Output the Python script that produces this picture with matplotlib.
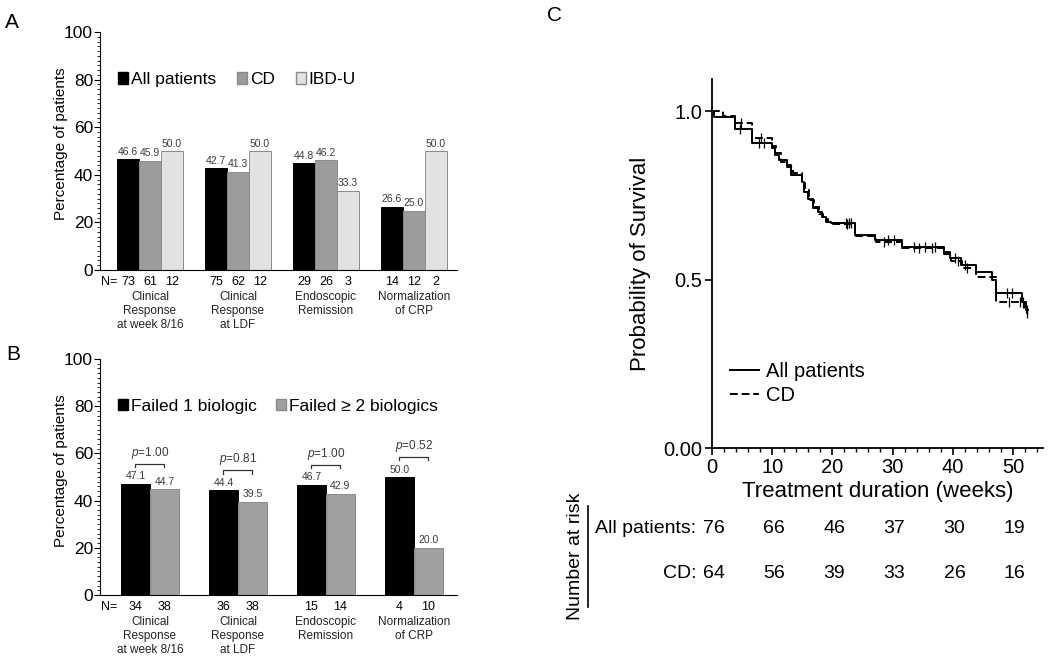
import numpy as np
import matplotlib
matplotlib.use("Agg")
import matplotlib.pyplot as plt
from matplotlib.patches import Patch
from matplotlib.lines import Line2D
from matplotlib.ticker import MultipleLocator
import matplotlib.transforms as mtransforms

plt.rcParams['font.family'] = ['Liberation Sans', 'DejaVu Sans']
plt.rcParams['mathtext.fontset'] = 'custom'
plt.rcParams['mathtext.it'] = 'Liberation Sans:italic'
plt.rcParams['mathtext.rm'] = 'Liberation Sans'

# ---------------- data ----------------
categories = ["Clinical\nResponse\nat week 8/16", "Clinical\nResponse\nat LDF",
              "Endoscopic\nRemission", "Normalization\nof CRP"]

# panel A
a_all = [46.6, 42.7, 44.8, 26.6]
a_cd = [45.9, 41.3, 46.2, 25.0]
a_ibdu = [50.0, 50.0, 33.3, 50.0]
a_n_all = [73, 75, 29, 14]
a_n_cd = [61, 62, 26, 12]
a_n_ibdu = [12, 12, 3, 2]

# panel B
b_one = [47.1, 44.4, 46.7, 50.0]
b_two = [44.7, 39.5, 42.9, 20.0]
b_n_one = [34, 36, 15, 4]
b_n_two = [38, 38, 14, 10]
b_pvals = ["1.00", "0.81", "1.00", "0.52"]

# panel C: Kaplan-Meier steps (weeks, survival) and censored times
t_all = [0, 0.3, 3.8, 6.6, 10.0, 10.5, 11.2, 12.4, 13.2, 14.9, 15.3, 16.0, 16.8,
         17.6, 18.2, 19.0, 19.7, 23.7, 27.1, 31.5, 38.5, 39.5, 41.4, 43.9, 46.5,
         47.2, 51.5, 52.2]
s_all = [1.0, 0.981, 0.946, 0.906, 0.89, 0.87, 0.855, 0.84, 0.81, 0.79, 0.76, 0.74,
         0.711, 0.70, 0.686, 0.672, 0.667, 0.633, 0.617, 0.597, 0.583, 0.563, 0.543,
         0.523, 0.498, 0.459, 0.434, 0.41]
cens_all = [4.6, 7.8, 8.6, 22.2, 22.7, 23.1, 29.3, 30.3, 33.5, 35.4, 37.1, 40.3,
            42.0, 49.0, 49.8, 51.6, 52.4]

t_cd = [0, 1.9, 3.8, 6.6, 10.0, 10.6, 11.4, 12.4, 13.4, 14.9, 15.5, 16.2, 16.9,
        17.7, 18.4, 19.2, 19.8, 23.7, 27.2, 31.6, 38.6, 39.7, 41.5, 43.9, 47.2,
        51.8, 52.3]
s_cd = [1.0, 0.984, 0.965, 0.919, 0.895, 0.875, 0.85, 0.835, 0.815, 0.785, 0.765,
        0.735, 0.715, 0.695, 0.68, 0.67, 0.664, 0.628, 0.612, 0.593, 0.577, 0.555,
        0.535, 0.508, 0.434, 0.415, 0.40]
cens_cd = [4.8, 8.2, 22.5, 28.6, 34.4, 36.6, 40.8, 42.3, 49.4, 51.2, 52.3]

risk_weeks = [0, 10, 20, 30, 40, 50]
risk_all = [76, 66, 46, 37, 30, 19]
risk_cd = [64, 56, 39, 33, 26, 16]

# ---------------- figure ----------------
fig = plt.figure(figsize=(10.5, 6.6), dpi=100)
axA = fig.add_axes([0.0952, 0.5909, 0.340, 0.3606])
axB = fig.add_axes([0.0952, 0.0985, 0.340, 0.3576])
axC = fig.add_axes([0.6781, 0.3212, 0.3152, 0.5591])

BLACK = '#000000'
MID = '#9c9c9c'
LIGHT = '#e2e2e2'
EDGE = '#8a8a8a'
VAL_C = '#3a3a3a'
x = np.arange(len(categories))


def style_bar_axis(ax):
    ax.set_xlim(-0.568, 3.49)
    ax.set_ylim(0, 100)
    ax.spines['top'].set_visible(False)
    ax.spines['right'].set_visible(False)
    ax.set_yticks([0, 20, 40, 60, 80, 100])
    ax.yaxis.set_minor_locator(MultipleLocator(2))
    ax.tick_params(axis='y', labelsize=12.5, length=4, width=0.8, pad=1)
    ax.tick_params(axis='y', which='minor', length=2, width=0.6)
    ax.set_xticks([])
    ax.set_ylabel("Percentage of patients", fontsize=11)


def under_text(ax, xpos, txt, dy, **kw):
    ax.annotate(txt, xy=(xpos, 0), xycoords=ax.get_xaxis_transform(),
                xytext=(0, dy), textcoords='offset points', **kw)


def n_label(ax):
    t = ax.text(0.0, 0, "N=", ha='left', va='top', fontsize=9)
    t.set_transform(ax.transAxes + mtransforms.ScaledTranslation(0.01, -4 / 72, fig.dpi_scale_trans))


# ---------------- panel A ----------------
w = 0.25
series_a = [(a_all, a_n_all, BLACK, BLACK), (a_cd, a_n_cd, MID, EDGE),
            (a_ibdu, a_n_ibdu, LIGHT, EDGE)]
for k, (vals, ns, col, ec) in enumerate(series_a):
    pos = x + (k - 1) * w
    axA.bar(pos, vals, width=w, color=col, edgecolor=ec, linewidth=0.7)
    for p, v, n in zip(pos, vals, ns):
        axA.text(p, v + 1, f"{v:.1f}", ha='center', va='bottom', fontsize=7.5, color=VAL_C)
        under_text(axA, p, str(n), -4, ha='center', va='top', fontsize=9)
for g, cat in zip(x, categories):
    under_text(axA, g, cat, -15, ha='center', va='top', fontsize=8.5, linespacing=1.25,
               color='#222222')
n_label(axA)
style_bar_axis(axA)
axA.yaxis.set_label_coords(-0.09, 0.53)
handles_a = [Patch(facecolor=BLACK, edgecolor=BLACK, label="All patients"),
             Patch(facecolor=MID, edgecolor=EDGE, label="CD"),
             Patch(facecolor=LIGHT, edgecolor=EDGE, label="IBD-U")]
axA.legend(handles=handles_a, ncol=3, loc='center left', bbox_to_anchor=(0.05, 0.8),
           frameon=False, fontsize=12.5, handlelength=0.6, handleheight=0.6,
           handletextpad=0.15, columnspacing=1.2, borderpad=0, borderaxespad=0)

# ---------------- panel B ----------------
wb = 0.33
GRAY_B = '#a0a0a0'
for k, (vals, ns, col, ec) in enumerate([(b_one, b_n_one, BLACK, BLACK),
                                         (b_two, b_n_two, GRAY_B, EDGE)]):
    pos = x + (k - 0.5) * wb
    axB.bar(pos, vals, width=wb, color=col, edgecolor=ec, linewidth=0.7)
    for p, v, n in zip(pos, vals, ns):
        axB.text(p, v + 1, f"{v:.1f}", ha='center', va='bottom', fontsize=7.5, color=VAL_C)
        under_text(axB, p, str(n), -4, ha='center', va='top', fontsize=9)
for g, cat, pv, v1, v2 in zip(x, categories, b_pvals, b_one, b_two):
    under_text(axB, g, cat, -15, ha='center', va='top', fontsize=8.5, linespacing=1.25,
               color='#222222')
    yb = max(v1, v2) + 8.5
    x1, x2 = g - wb / 2, g + wb / 2
    axB.plot([x1, x1, x2, x2], [yb - 1.5, yb, yb, yb - 1.5], color='#333333', lw=0.9)
    axB.text(g, yb + 1.2, f"$p$=" + pv, ha='center', va='bottom', fontsize=8.5, color=VAL_C)
n_label(axB)
style_bar_axis(axB)
axB.yaxis.set_label_coords(-0.09, 0.525)
handles_b = [Patch(facecolor=BLACK, edgecolor=BLACK, label="Failed 1 biologic"),
             Patch(facecolor=GRAY_B, edgecolor=EDGE, label="Failed \u2265 2 biologics")]
axB.legend(handles=handles_b, ncol=2, loc='center left', bbox_to_anchor=(0.05, 0.8),
           frameon=False, fontsize=12.5, handlelength=0.6, handleheight=0.6,
           handletextpad=0.15, columnspacing=1.1, borderpad=0, borderaxespad=0)

# ---------------- panel C ----------------
def km_at(times, surv, c):
    return surv[np.searchsorted(times, c, side='right') - 1]


for times, surv, cens, ls, end in [(t_cd, s_cd, cens_cd, (0, (4, 2)), 52.5),
                                   (t_all, s_all, cens_all, '-', 52.5)]:
    axC.step(times + [end], surv + [surv[-1]], where='post', color='black',
             lw=1.4, linestyle=ls)
    cy = [km_at(times, surv, c) for c in cens]
    axC.plot(cens, cy, linestyle='none', marker='|', ms=7, mew=0.9, color='black')

axC.set_xlim(0, 55)
axC.set_ylim(0, 1.095)
axC.spines['top'].set_visible(False)
axC.spines['right'].set_visible(False)
axC.spines['left'].set_linewidth(1.3)
axC.spines['bottom'].set_linewidth(1.3)
axC.set_yticks([0, 0.5, 1.0])
axC.set_yticklabels(["0.00", "0.5", "1.0"])
axC.set_xticks(risk_weeks)
axC.xaxis.set_minor_locator(MultipleLocator(2))
axC.tick_params(axis='both', labelsize=14.5, length=5, width=1.2, pad=2)
axC.tick_params(axis='x', which='minor', length=3, width=1.0)
axC.set_xlabel("Treatment duration (weeks)", fontsize=16, labelpad=3)
axC.set_ylabel("Probability of Survival", fontsize=16)
axC.yaxis.set_label_coords(-0.185, 0.5)
legC = [Line2D([0], [0], color='black', lw=1.4, label="All patients"),
        Line2D([0], [0], color='black', lw=1.4, linestyle=(0, (4, 2)), label="CD")]
axC.legend(handles=legC, loc='center left', bbox_to_anchor=(0.054, 0.175),
           frameon=False, fontsize=14.5, handlelength=1.45, handletextpad=0.35,
           labelspacing=0.25, borderpad=0, borderaxespad=0)

# number at risk table
tr = mtransforms.blended_transform_factory(axC.transData, fig.transFigure)
for row_y, label, vals in [(0.1985, "All patients:", risk_all), (0.1318, "CD:", risk_cd)]:
    axC.text(-2.6, row_y, label, transform=tr, ha='right', va='center', fontsize=14,
             clip_on=False)
    for wk, v in zip(risk_weeks, vals):
        axC.text(wk + 0.3, row_y, str(v), transform=tr, ha='center', va='center',
                 fontsize=14, clip_on=False)
fig.text(0.548, 0.157, "Number at risk", rotation=90, ha='center', va='center', fontsize=14)
fig.add_artist(Line2D([0.56, 0.56], [0.0803, 0.2333], color='black', lw=1.2,
                      transform=fig.transFigure))

# panel letters
fig.text(0.0115, 0.966, "A", fontsize=15, ha='center', va='center')
fig.text(0.0125, 0.463, "B", fontsize=15, ha='center', va='center')
fig.text(0.5285, 0.977, "C", fontsize=15, ha='center', va='center')

fig.savefig("out.png", dpi=100)
